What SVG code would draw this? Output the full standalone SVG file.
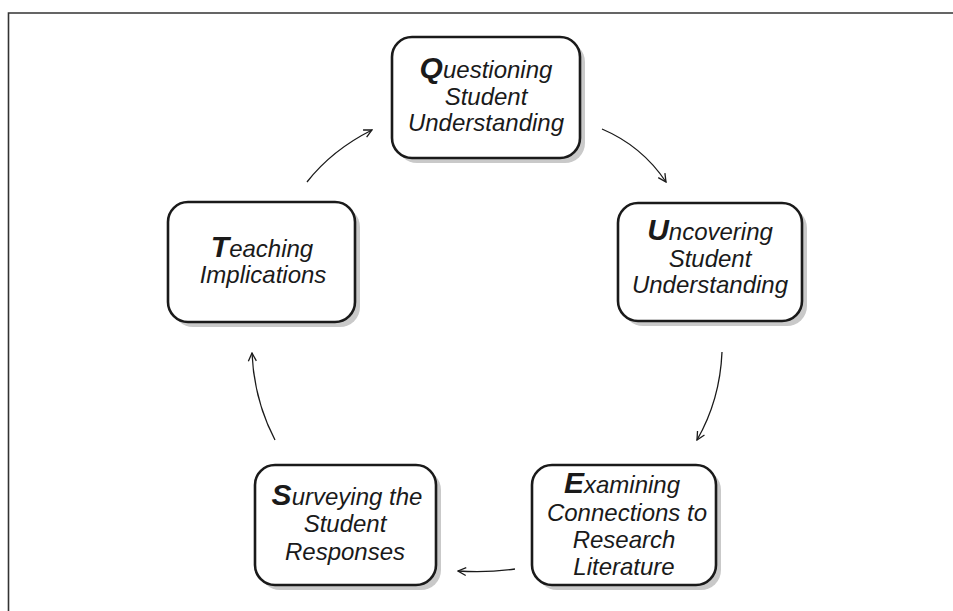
<svg xmlns="http://www.w3.org/2000/svg" width="953" height="611" viewBox="0 0 953 611">
<style>
.frame{fill:none;stroke:#333;stroke-width:1.6}
.shadow{fill:#c9c9c9;stroke:none}
.box{fill:#fff;stroke:#1a1a1a;stroke-width:2.6}
.t{font-family:"Liberation Sans",Arial,sans-serif;font-style:italic;font-size:24px;fill:#1a1a1a;text-anchor:middle}
.b{font-weight:bold;font-size:30px}
.conn path{fill:none;stroke:#1a1a1a;stroke-width:1.3;marker-end:url(#ah)}
</style>
<defs>
<marker id="ah" viewBox="0 0 10 10" refX="9" refY="5" markerWidth="10" markerHeight="10" markerUnits="userSpaceOnUse" orient="auto">
<path d="M1,1 L9,5 L1,9" fill="none" stroke="#1a1a1a" stroke-width="1.3"/>
</marker>
</defs>
<rect width="953" height="611" fill="#fff"/>
<path class="frame" d="M8.5,611 V13 H953"/>
<g id="node-q">
<rect class="shadow" x="397" y="42" width="188" height="121" rx="20"/>
<rect class="box" x="392" y="37" width="188" height="121" rx="20"/>
<text class="t" x="486" y="78"><tspan class="b">Q</tspan>uestioning</text>
<text class="t" x="486" y="105">Student</text>
<text class="t" x="486" y="131">Understanding</text>
</g>
<g id="node-u">
<rect class="shadow" x="623" y="208" width="184" height="118" rx="20"/>
<rect class="box" x="618" y="203" width="184" height="118" rx="20"/>
<text class="t" x="710" y="240"><tspan class="b">U</tspan>ncovering</text>
<text class="t" x="710" y="267">Student</text>
<text class="t" x="710" y="293">Understanding</text>
</g>
<g id="node-e">
<rect class="shadow" x="537" y="470" width="184" height="120" rx="20"/>
<rect class="box" x="532" y="465" width="184" height="120" rx="20"/>
<text class="t" x="622" y="493"><tspan class="b">E</tspan>xamining</text>
<text class="t" x="627" y="521">Connections to</text>
<text class="t" x="624" y="548">Research</text>
<text class="t" x="624" y="575">Literature</text>
</g>
<g id="node-s">
<rect class="shadow" x="260" y="470" width="181" height="120" rx="20"/>
<rect class="box" x="255" y="465" width="181" height="120" rx="20"/>
<text class="t" x="347" y="505"><tspan class="b">S</tspan>urveying the</text>
<text class="t" x="345" y="532">Student</text>
<text class="t" x="345" y="560">Responses</text>
</g>
<g id="node-t">
<rect class="shadow" x="173" y="207" width="187" height="120" rx="20"/>
<rect class="box" x="168" y="202" width="187" height="120" rx="20"/>
<text class="t" x="262" y="257"><tspan class="b">T</tspan>eaching</text>
<text class="t" x="263" y="283">Implications</text>
</g>
<g id="connectors" class="conn">
<path d="M307,182 Q332,150 372,130"/>
<path d="M602,129 Q642,146 666,182"/>
<path d="M722,352 Q720,400 697,440"/>
<path d="M515,569 Q487,573 458,571"/>
<path d="M275,440 Q254,400 252,353"/>
</g>
</svg>
